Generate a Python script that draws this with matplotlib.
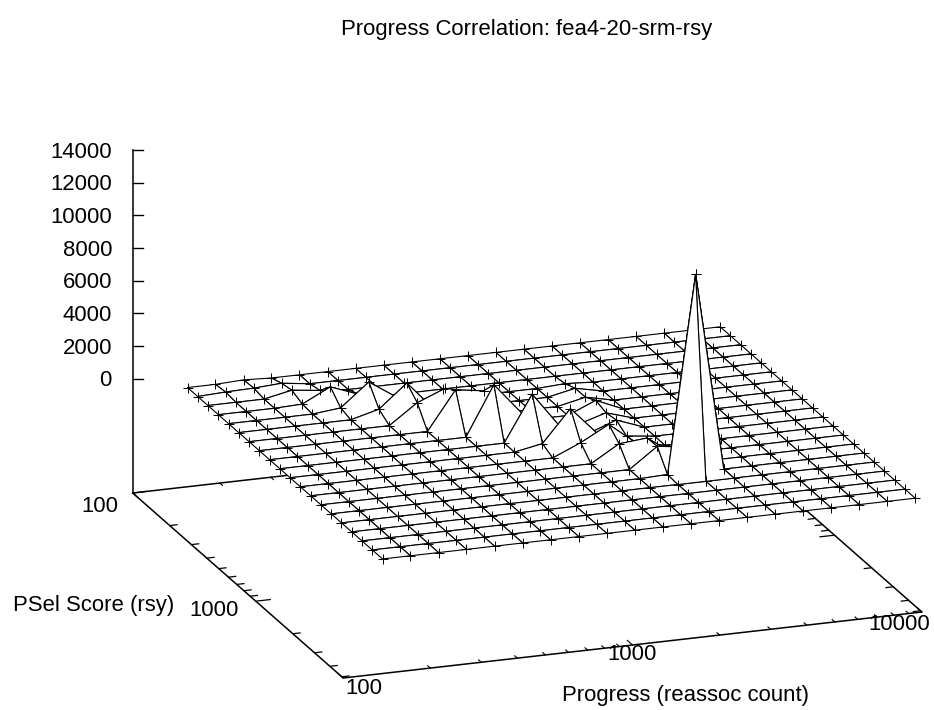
import matplotlib
matplotlib.use("Agg")
import matplotlib.pyplot as plt
import numpy as np
from matplotlib.collections import PolyCollection
from matplotlib.path import Path

plt.rcParams["font.family"] = ["Liberation Sans", "DejaVu Sans"]

# grid of the surface, log spaced in both directions
progress = [137, 171, 214, 267, 334, 418, 522, 653, 816, 1020,
            1275, 1594, 1992, 2490, 3113, 3891, 4864, 6080, 7600, 9500]
psel = [133, 161, 195, 237, 287, 347, 421, 510, 618, 749,
        907, 1099, 1332, 1614, 1956, 2370, 2871, 3479, 4216, 5108]

# one row per psel value, one column per progress value
counts = [
    [0, 0, 80, 0, 0, 0, 0, 0, 0, 0, 0, 0, 0, 0, 0, 0, 0, 0, 0, 0],
    [0, 80, 120, 225, 0, 0, 0, 0, 0, 0, 0, 0, 0, 0, 0, 0, 0, 0, 0, 0],
    [0, 0, 0, 350, 140, 0, 0, 0, 0, 0, 0, 0, 0, 0, 0, 0, 0, 0, 0, 0],
    [0, 0, 0, 60, 920, 270, 0, 0, 0, 0, 0, 0, 0, 0, 0, 0, 0, 0, 0, 0],
    [0, 0, 0, 0, 180, 1570, 450, 0, 0, 0, 0, 0, 100, 0, 0, 0, 0, 0, 0, 0],
    [0, 0, 0, 0, 0, 450, 1860, 0, 0, 0, 0, 0, 360, 0, 0, 0, 0, 0, 0, 0],
    [0, 0, 0, 0, 0, 0, 1210, 1900, 0, 0, 0, 0, 370, 0, 0, 0, 0, 0, 0, 0],
    [0, 0, 0, 0, 0, 0, 0, 2355, 2100, 0, 0, 0, 730, 0, 0, 0, 0, 0, 0, 0],
    [0, 0, 0, 0, 0, 0, 0, 0, 3020, 1080, 0, 0, 520, 0, 0, 0, 0, 0, 0, 0],
    [0, 0, 0, 0, 0, 0, 0, 0, 0, 2800, 610, 0, 630, 0, 0, 0, 0, 0, 0, 0],
    [0, 0, 0, 0, 0, 0, 0, 0, 0, 325, 2270, 490, 200, 0, 0, 0, 0, 0, 0, 0],
    [0, 0, 0, 0, 0, 0, 0, 0, 0, 0, 740, 1660, 310, 0, 0, 0, 0, 0, 0, 0],
    [0, 0, 0, 0, 0, 0, 0, 0, 0, 0, 0, 1030, 1190, 0, 0, 0, 0, 0, 0, 0],
    [0, 0, 0, 0, 0, 0, 0, 0, 0, 0, 0, 0, 1230, 1000, 0, 0, 0, 0, 0, 0],
    [0, 0, 0, 0, 0, 0, 0, 0, 0, 0, 0, 0, 60, 12110, 0, 0, 0, 0, 0, 0],
    [0] * 20,
    [0] * 20,
    [0] * 20,
    [0] * 20,
    [0] * 20,
]

z_ticks = [0, 2000, 4000, 6000, 8000, 10000, 12000, 14000]
x_ticks = [100, 200, 300, 400, 500, 600, 700, 800, 900, 1000, 2000, 3000, 4000,
           5000, 6000, 7000, 8000, 9000, 10000]
y_ticks = [100, 200, 300, 400, 500, 600, 700, 800, 900, 1000, 2000, 3000, 4000, 5000]

# axis ranges
x_min, x_max = 100, 10000
y_min, y_max = 100, 5130
z_base, z_top = -7000, 14000

# where the base corner sits on the canvas and where the axes run to (pixels)
origin = np.array([132.7, 493.0])
x_vec = np.array([578.7, -66.0])
y_vec = np.array([210.5, 185.0])
z_len = 343.0

font_size = 15.9


def project(x, y, z):
    u = np.log10(x / x_min) / np.log10(x_max / x_min)
    v = np.log10(y / y_min) / np.log10(y_max / y_min)
    w = (z - z_base) / (z_top - z_base)
    return origin + u * x_vec + v * y_vec - np.array([0, w * z_len])


def draw_marks(marks, zorder):
    marks = np.array(marks)
    ax.plot(marks[:, 0], marks[:, 1], linestyle="none", marker="+", color="black",
            markersize=7.5, markeredgewidth=0.7, zorder=zorder)


fig = plt.figure(figsize=(9.34, 7.1), dpi=100)
ax = fig.add_axes([0, 0, 1, 1])
ax.set_xlim(0, 934)
ax.set_ylim(710, 0)
ax.axis("off")

## Base frame and z axis
corners = [project(x_min, y_min, z_base), project(x_max, y_min, z_base),
           project(x_max, y_max, z_base), project(x_min, y_max, z_base)]
frame = np.array(corners + [corners[0]])
ax.plot(frame[:, 0], frame[:, 1], color="black", lw=1.1, zorder=1)
z_bottom = project(x_min, y_min, z_base)
z_end = project(x_min, y_min, z_top)
ax.plot([z_bottom[0], z_end[0]], [z_bottom[1], z_end[1]], color="black", lw=1.1, zorder=1)

for z in z_ticks:
    p = project(x_min, y_min, z)
    ax.plot([p[0], p[0] + 10], [p[1], p[1]], color="black", lw=1.0, zorder=1)
    ax.text(112, p[1] + 2, str(z), ha="right", va="center", fontsize=font_size)

# log ticks, the decades are twice as long, mirrored on the far edge
for x in x_ticks:
    size = 0.025 if x in (100, 1000, 10000) else 0.0125
    front = project(x, y_max, z_base)
    back = project(x, y_min, z_base)
    ax.plot([front[0], front[0] - size * y_vec[0]], [front[1], front[1] - size * y_vec[1]],
            color="black", lw=0.8, zorder=1)
    ax.plot([back[0], back[0] + size * y_vec[0]], [back[1], back[1] + size * y_vec[1]],
            color="black", lw=0.8, zorder=1)
for y in y_ticks:
    size = 0.025 if y in (100, 1000) else 0.0125
    left = project(x_min, y, z_base)
    right = project(x_max, y, z_base)
    ax.plot([left[0], left[0] + size * x_vec[0]], [left[1], left[1] + size * x_vec[1]],
            color="black", lw=0.9, zorder=1)
    ax.plot([right[0], right[0] - size * x_vec[0]], [right[1], right[1] - size * x_vec[1]],
            color="black", lw=0.9, zorder=1)

## Surface, cells go back to front so the white faces hide what is behind them
nx, ny = len(progress), len(psel)
points = np.zeros((ny, nx, 2))
for j in range(ny):
    for i in range(nx):
        points[j, i] = project(progress[i], psel[j], counts[j][i])

cells = []
for j in range(ny - 1):
    for i in range(nx - 2, -1, -1):
        cells.append(((i, j), [points[j, i], points[j, i + 1], points[j + 1, i + 1], points[j + 1, i]]))

faces = PolyCollection([c[1] for c in cells], facecolors="white", edgecolors="black",
                       linewidths=0.8, zorder=2)
ax.add_collection(faces)

# a + is only drawn when no cell further to the front covers its point
visible = []
for j in range(ny):
    for i in range(nx):
        hidden = False
        for (ci, cj), poly in cells:
            if cj < j - 1 or (cj == j - 1 and ci >= i) or (cj == j and ci > i):
                continue
            if i in (ci, ci + 1) and j in (cj, cj + 1):
                continue
            if Path(poly + [poly[0]]).contains_point(points[j, i], radius=-0.5):
                hidden = True
                break
        if not hidden:
            visible.append((i, j))
draw_marks([points[j, i] for i, j in visible], 3)

# the tall spike goes over the marks again, they get cut off at its edges
tall = [c for c in cells if counts[c[0][1]][c[0][0]] > 5000 or counts[c[0][1] + 1][c[0][0]] > 5000
        or counts[c[0][1]][c[0][0] + 1] > 5000 or counts[c[0][1] + 1][c[0][0] + 1] > 5000]
ax.add_collection(PolyCollection([c[1] for c in tall], facecolors="white", edgecolors="black",
                                 linewidths=0.8, zorder=4))
own = set()
for (ci, cj), poly in tall:
    own.update([(ci, cj), (ci + 1, cj), (ci, cj + 1), (ci + 1, cj + 1)])
draw_marks([points[j, i] for i, j in visible if (i, j) in own], 5)

## Text
ax.text(527, 30, "Progress Correlation: fea4-20-srm-rsy", ha="center", va="center", fontsize=font_size)
ax.text(100, 507, "100", ha="center", va="center", fontsize=font_size)
ax.text(214, 611, "1000", ha="center", va="center", fontsize=font_size)
ax.text(93.5, 606, "PSel Score (rsy)", ha="center", va="center", fontsize=font_size)
ax.text(364, 688, "100", ha="center", va="center", fontsize=font_size)
ax.text(632, 655, "1000", ha="center", va="center", fontsize=font_size)
ax.text(899, 624, "10000", ha="center", va="center", fontsize=font_size)
ax.text(685, 695, "Progress (reassoc count)", ha="center", va="center", fontsize=font_size)

fig.savefig("out.png", dpi=100)
